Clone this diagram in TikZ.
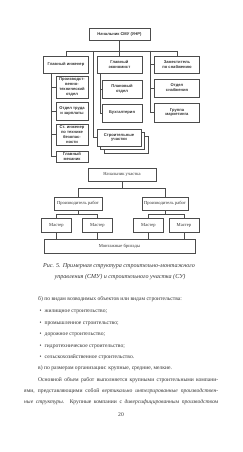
\documentclass[tikz,border=0pt]{standalone}
\usepackage{fontspec}
\setmainfont{Liberation Serif}
\newfontfamily\chartsans{Liberation Sans}
\definecolor{ink}{gray}{0.2}
\definecolor{lin}{gray}{0.3}
\begin{document}
\begin{tikzpicture}[x=1pt,y=-1pt,
  tb/.style={draw=lin, line width=0.65pt, fill=white, text=ink,
    font=\chartsans\bfseries\fontsize{4.1}{4.9}\selectfont, align=center, inner sep=0pt},
  bb/.style={draw=lin, line width=0.45pt, fill=white, text=ink,
    font=\fontsize{4.6}{5.5}\selectfont, align=center, inner sep=0pt},
  cn/.style={draw=lin, line width=0.55pt},
  cb/.style={draw=lin, line width=0.4pt},
  body/.style={anchor=base west, inner sep=0pt, text=ink, font=\fontsize{5.6}{7}\selectfont},
  capt/.style={anchor=base, inner sep=0pt, text=ink, font=\itshape\fontsize{6.1}{7}\selectfont}]
\useasboundingbox[fill=white] (0,0) rectangle (242,452);

% ---------- top chart ----------
\node[tb, minimum width=61, minimum height=12] (top) at (119.5,34) {Начальник СМУ (УНР)};
\node[tb, minimum width=45, minimum height=17] (gi) at (66,64.5) {Главный инженер};
\node[tb, minimum width=45, minimum height=17] (ge) at (119.5,64.5) {Главный\\экономист};
\node[tb, minimum width=45, minimum height=17] (zs) at (177,64.5) {Заместитель\\по снабжению};

\node[tb, minimum width=32, minimum height=22] (pto) at (72,87) {Производст-\\венно-\\технический\\отдел};
\node[tb, minimum width=32, minimum height=18] (otz) at (72,111) {Отдел труда\\и зарплаты};
\node[tb, minimum width=32, minimum height=21] (sti) at (72,134.5) {Ст. инженер\\по технике\\безопас-\\ности};
\node[tb, minimum width=32, minimum height=11] (gm) at (72,156.5) {Главный\\механик};

\node[tb, minimum width=40, minimum height=18] (po) at (122,89) {Плановый\\отдел};
\node[tb, minimum width=40, minimum height=18] (bu) at (122,113) {Бухгалтерия};
\node[tb, minimum width=44, minimum height=17] (su3) at (126,144.5) {};
\node[tb, minimum width=44, minimum height=17] (su2) at (122.5,141) {};
\node[tb, minimum width=44, minimum height=17] (su) at (119,137.5) {Строительные\\участки};

\node[tb, minimum width=45, minimum height=18] (os) at (177,88) {Отдел\\снабжения};
\node[tb, minimum width=45, minimum height=19] (gmk) at (177,112.5) {Группа\\маркетинга};

\coordinate (busL) at (66,51);
\coordinate (busR) at (177,51);
\coordinate (mt) at (93,51);
\coordinate (rr) at (150,51);
\coordinate (lr) at (51,73);
\coordinate (er) at (100,73);
\draw[cn] (top.south) -- (ge.north);
\draw[cn] (busL) -- (busR);
\draw[cn] (busL) -- (gi.north);
\draw[cn] (busR) -- (zs.north);
\draw[cn] (mt) |- (su.west);
\draw[cn] (rr) |- (zs.west);
\draw[cn] (rr) |- (os.west);
\draw[cn] (rr) |- (gmk.west);
\draw[cn] (lr) |- (pto.west);
\draw[cn] (lr) |- (otz.west);
\draw[cn] (lr) |- (sti.west);
\draw[cn] (lr) |- (gm.west);
\draw[cn] (er) |- (po.west);
\draw[cn] (er) |- (bu.west);

% ---------- bottom chart ----------
\node[bb, minimum width=68, minimum height=13] (na) at (122,174.5) {Начальник участка};
\node[bb, minimum width=48, minimum height=13] (pr1) at (78,203.5) {Производитель работ};
\node[bb, minimum width=46, minimum height=13] (pr2) at (165,203.5) {Производитель работ};
\node[bb, minimum width=30, minimum height=14] (m1) at (56.5,225) {Мастер};
\node[bb, minimum width=30, minimum height=14] (m2) at (97.5,225) {Мастер};
\node[bb, minimum width=30, minimum height=14] (m3) at (148.5,225) {Мастер};
\node[bb, minimum width=30, minimum height=14] (m4) at (184,225) {Мастер};
\node[bb, minimum width=151, minimum height=14] (mb) at (119.5,246) {Монтажные бригады};

\coordinate (nb) at (122,188);
\coordinate (pb1) at (78,214);
\coordinate (pb2) at (165,214);
\draw[cb] (na.south) -- (nb);
\draw[cb] (pr1.north |- nb) -- (pr2.north |- nb);
\draw[cb] (pr1.north |- nb) -- (pr1.north);
\draw[cb] (pr2.north |- nb) -- (pr2.north);
\draw[cb] (pr1.south) -- (pb1);
\draw[cb] (m1.north |- pb1) -- (m2.north |- pb1);
\draw[cb] (m1.north |- pb1) -- (m1.north);
\draw[cb] (m2.north |- pb1) -- (m2.north);
\draw[cb] (pr2.south) -- (pb2);
\draw[cb] (m3.north |- pb2) -- (m4.north |- pb2);
\draw[cb] (m3.north |- pb2) -- (m3.north);
\draw[cb] (m4.north |- pb2) -- (m4.north);
\draw[cb] (m1.south) -- (m1.south |- mb.north);
\draw[cb] (m2.south) -- (m2.south |- mb.north);
\draw[cb] (m3.south) -- (m3.south |- mb.north);
\draw[cb] (m4.south) -- (m4.south |- mb.north);

% ---------- caption ----------
\node[capt] (cap1) at (119,267.5) {Рис. 5. Примерная структура строительно-монтажного};
\node[capt] (cap2) at (120,278.5) {управления (СМУ) и строительного участка (СУ)};

% ---------- body text ----------
\node[body] (t1) at (38,300.5) {б) по видам возводимых объектов или видам строительства:};
\node[body] (bl1) at (39.5,312.5) {•};
\node[body] (bl2) at (39.5,324) {•};
\node[body] (bl3) at (39.5,335.5) {•};
\node[body] (bl4) at (39.5,347) {•};
\node[body] (bl5) at (39.5,358.5) {•};
\node[body] (i1) at (44.5,312.5) {жилищное строительство;};
\node[body] (i2) at (44.5,324) {промышленное строительство;};
\node[body] (i3) at (44.5,335.5) {дорожное строительство;};
\node[body] (i4) at (44.5,347) {гидротехническое строительство;};
\node[body] (i5) at (44.5,358.5) {сельскохозяйственное строительство.};
\node[body] (t2) at (38,369.8) {в) по размерам организации: крупные, средние, мелкие.};
\node[body] (p1) at (38,381) {\makebox[180pt][s]{Основной объем работ выполняется крупными строительными компани-}};
\node[body] (p2) at (24,392.3) {\makebox[194pt][s]{ями, представляющими собой \textit{вертикально интегрированные производствен-}}};
\node[body] (p3) at (24,403.6) {\makebox[194pt][s]{\textit{ные структуры}. Крупные компании с \textit{диверсифицированным производством}}};
\node[body, anchor=base] (pg) at (121,416.5) {20};
\end{tikzpicture}
\end{document}
